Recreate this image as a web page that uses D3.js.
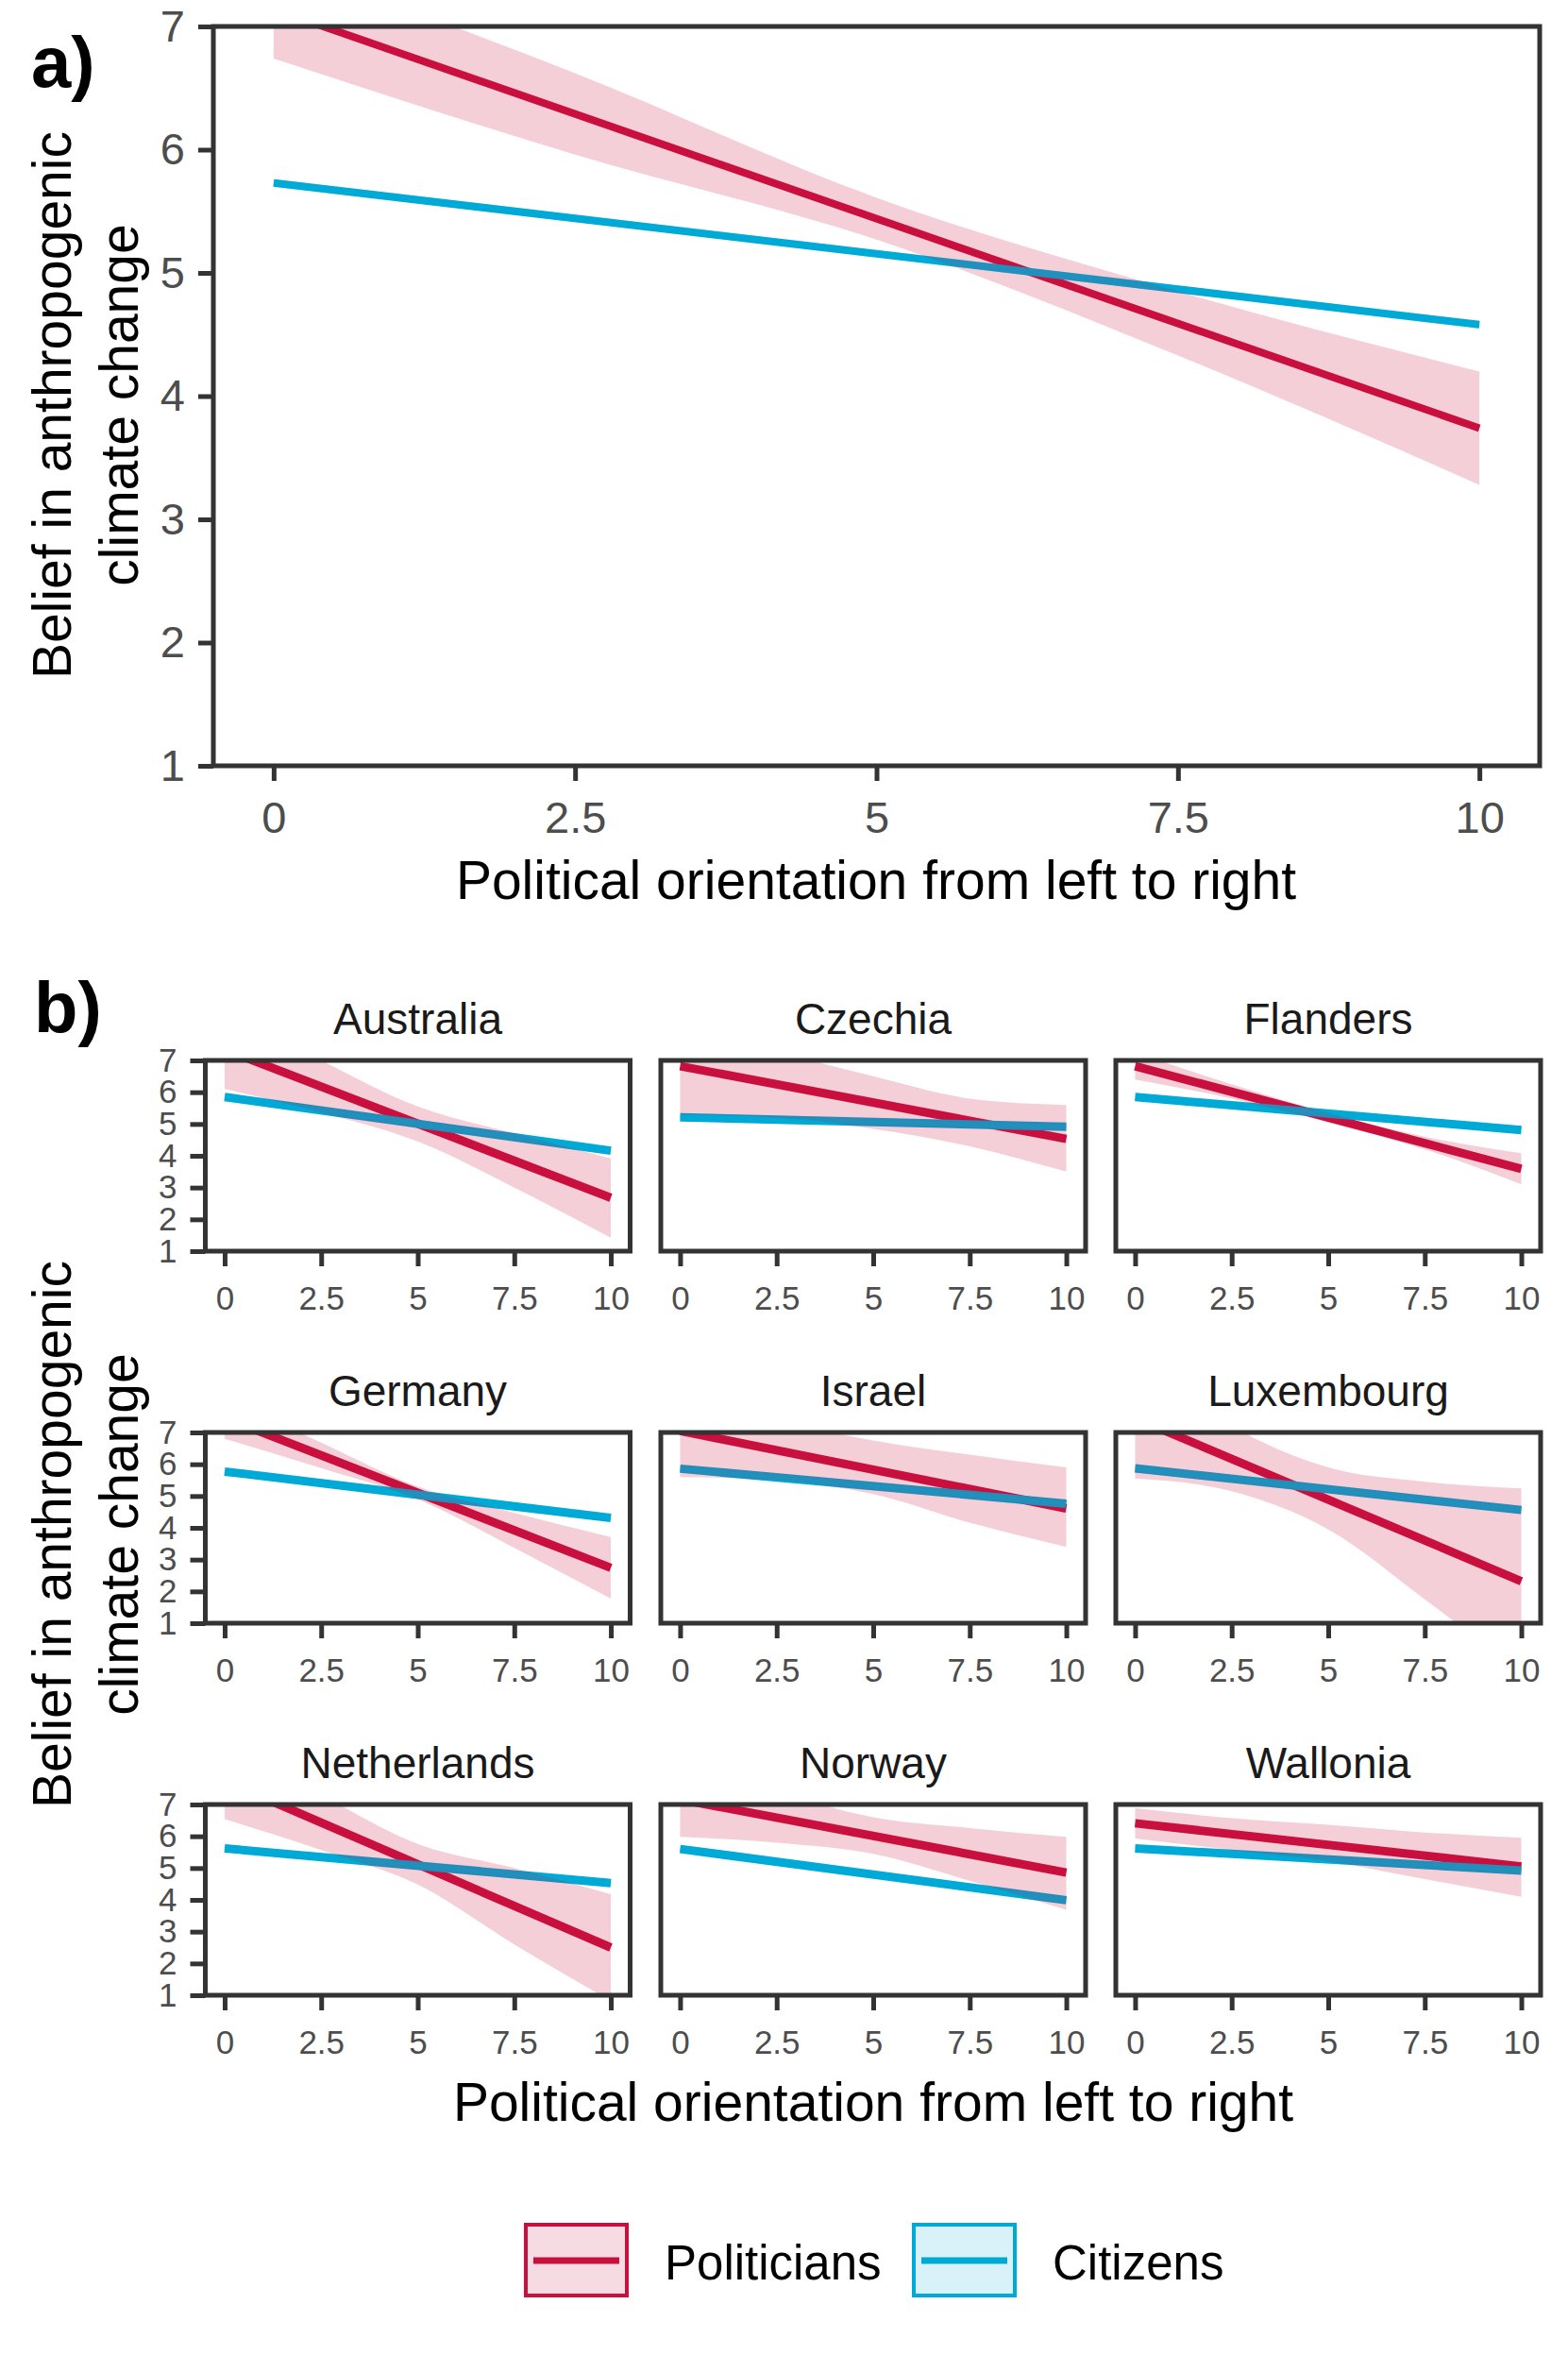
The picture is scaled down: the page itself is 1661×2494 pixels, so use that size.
<!DOCTYPE html>
<html>
<head>
<meta charset="utf-8">
<script src="https://cdn.jsdelivr.net/npm/d3@7"></script>
<style>
  body { margin: 0; background: #fff; }
  text { font-family: "Liberation Sans", Arial, sans-serif; }
</style>
</head>
<body>
<div id="chart"></div>
<script>
const xTicks = [0, 2.5, 5, 7.5, 10];
const yTicks = [1, 2, 3, 4, 5, 6, 7];
const lineX = [0, 10];
const bandX = [0, 2.5, 5, 7.5, 10];
const groups = ['Politicians', 'Citizens'];

// panel a: overall fit
const allPol = [7.14, 3.74];
const allPolLo = [6.74, 5.96, 5.27, 4.33, 3.28];
const allPolHi = [7.54, 6.62, 5.61, 4.85, 4.20];
const allCit = [5.73, 4.58];
const allCitLo = [5.70, 4.55];
const allCitHi = [5.76, 4.61];

// panel b: one entry per country
const countries = ['Australia', 'Czechia', 'Flanders', 'Germany', 'Israel', 'Luxembourg', 'Netherlands', 'Norway', 'Wallonia'];
const polFit = [[7.34, 2.68], [6.82, 4.53], [6.82, 3.59], [7.46, 2.74], [7.05, 4.61], [7.45, 2.32], [7.74, 2.50], [7.16, 4.86], [6.41, 5.05]];
const polLo = [
  [6.10, 5.36, 4.45, 3.00, 1.42],
  [5.30, 5.20, 4.85, 4.30, 3.50],
  [6.40, 5.80, 5.05, 4.20, 3.10],
  [6.80, 5.88, 4.90, 3.37, 1.77],
  [5.60, 5.50, 5.06, 4.16, 3.40],
  [5.55, 5.15, 3.95, 1.75, -0.60],
  [6.54, 5.57, 4.48, 2.60, 0.82],
  [5.98, 5.80, 5.45, 4.60, 3.69],
  [5.93, 5.57, 5.22, 4.65, 4.10]
];
const polHi = [
  [8.60, 7.00, 5.55, 4.71, 3.92],
  [8.30, 7.30, 6.50, 5.80, 5.60],
  [7.25, 6.25, 5.35, 4.60, 4.08],
  [8.10, 6.68, 5.30, 4.47, 3.71],
  [8.50, 7.40, 6.75, 6.30, 5.90],
  [9.35, 7.20, 5.90, 5.45, 5.24],
  [8.94, 7.30, 5.76, 5.00, 4.18],
  [8.34, 7.40, 6.60, 6.26, 5.98],
  [6.89, 6.57, 6.36, 6.12, 5.95]
];
const citFit = [[5.85, 4.16], [5.21, 4.91], [5.85, 4.81], [5.77, 4.31], [5.86, 4.76], [5.87, 4.56], [5.62, 4.53], [5.60, 3.99], [5.62, 4.92]];
const citLo = [[5.79, 4.09], [5.15, 4.84], [5.80, 4.75], [5.71, 4.25], [5.80, 4.69], [5.80, 4.48], [5.56, 4.46], [5.54, 3.92], [5.56, 4.85]];
const citHi = [[5.91, 4.23], [5.27, 4.98], [5.90, 4.87], [5.83, 4.37], [5.92, 4.83], [5.94, 4.64], [5.68, 4.60], [5.66, 4.06], [5.68, 4.99]];

const W = 1661, H = 2494;
const color = d3.scaleOrdinal(groups, ['#c90f3e', '#00aad6']);
const axisCol = '#333333', tickTextCol = '#4d4d4d';

const svg = d3.select('#chart')
    .append('svg')
    .attr('width', W)
    .attr('height', H);

let clipId = 0;

// draws one panel: lines first, then translucent bands on top (as in the original)
function drawPanel(box, pol, pLo, pHi, cit, cLo, cHi, opt){
    const x = d3.scaleLinear().domain([-0.5, 10.5]).range([box.left, box.right]);
    const y = d3.scaleLinear().domain([1, 7]).range([box.bottom, box.top]);
    const g = svg.append('g');

    const id = 'clip' + (clipId++);
    g.append('clipPath').attr('id', id)
        .append('rect')
        .attr('x', box.left).attr('y', box.top)
        .attr('width', box.right - box.left).attr('height', box.bottom - box.top);
    const inner = g.append('g').attr('clip-path', `url(#${id})`);

    const line = d3.line().x(d => x(d[0])).y(d => y(d[1]));
    const area = d3.area().x(d => x(d[0])).y0(d => y(d[1])).y1(d => y(d[2])).curve(d3.curveMonotoneX);

    inner.append('path')
        .attr('d', line(lineX.map((v, i) => [v, pol[i]])))
        .attr('fill', 'none').attr('stroke', color('Politicians')).attr('stroke-width', opt.lw);
    inner.append('path')
        .attr('d', line(lineX.map((v, i) => [v, cit[i]])))
        .attr('fill', 'none').attr('stroke', color('Citizens')).attr('stroke-width', opt.lw);
    inner.append('path')
        .attr('d', area(bandX.map((v, i) => [v, pLo[i], pHi[i]])))
        .attr('fill', color('Politicians')).attr('fill-opacity', 0.2);
    inner.append('path')
        .attr('d', area(lineX.map((v, i) => [v, cLo[i], cHi[i]])))
        .attr('fill', color('Citizens')).attr('fill-opacity', 0.2);

    // axes
    const axes = [];
    axes.push(g.append('g')
        .attr('transform', `translate(0,${box.bottom})`)
        .call(d3.axisBottom(x).tickValues(xTicks).tickSize(16).tickPadding(opt.xPad).tickFormat(d => d)));
    if (opt.showY) {
        axes.push(g.append('g')
            .attr('transform', `translate(${box.left},0)`)
            .call(d3.axisLeft(y).tickValues(yTicks).tickSize(16).tickPadding(14).tickFormat(d => d)));
    }
    axes.forEach(ax => {
        ax.select('.domain').remove();
        ax.selectAll('line').attr('stroke', axisCol).attr('stroke-width', 5);
        ax.selectAll('text')
            .attr('fill', tickTextCol)
            .style('font-size', opt.tickSize + 'px')
            .style('font-family', '"Liberation Sans", Arial, sans-serif');
    });

    g.append('rect')
        .attr('x', box.left).attr('y', box.top)
        .attr('width', box.right - box.left).attr('height', box.bottom - box.top)
        .attr('fill', 'none').attr('stroke', axisCol).attr('stroke-width', 5);

    if (opt.title) {
        g.append('text')
            .attr('x', (box.left + box.right) / 2)
            .attr('y', box.top - 28)
            .attr('text-anchor', 'middle')
            .attr('fill', '#1a1a1a')
            .style('font-size', '46px')
            .text(opt.title);
    }
}

function yTitle(cy){
    const t = svg.append('text')
        .attr('transform', `translate(75,${cy}) rotate(-90)`)
        .attr('text-anchor', 'middle')
        .style('font-size', '57px')
        .attr('fill', '#000');
    t.append('tspan').attr('x', 0).attr('dy', 0).text('Belief in anthropogenic');
    t.append('tspan').attr('x', 0).attr('dy', 71).text('climate change');
}

function xTitle(cx, baseline){
    svg.append('text')
        .attr('x', cx).attr('y', baseline)
        .attr('text-anchor', 'middle')
        .style('font-size', '57px')
        .attr('fill', '#000')
        .text('Political orientation from left to right');
}

// ---- panel a
const boxA = {left: 226, right: 1631, top: 28, bottom: 811};
drawPanel(boxA, allPol, allPolLo, allPolHi, allCit, allCitLo, allCitHi, {lw: 8, xPad: 22, tickSize: 47, showY: true});
yTitle(429);
xTitle(928, 952);
svg.append('text').attr('x', 33).attr('y', 92)
    .style('font-size', '76px').style('font-weight', 'bold').text('a)');

// ---- panel b
const colLeft = [217.5, 700, 1182];
const rowTop = [1123, 1517, 1911];
const facetW = 450, facetH = 202;
countries.forEach((c, i) => {
    const col = i % 3, row = Math.floor(i / 3);
    const box = {left: colLeft[col], right: colLeft[col] + facetW, top: rowTop[row], bottom: rowTop[row] + facetH};
    drawPanel(box, polFit[i], polLo[i], polHi[i], citFit[i], citLo[i], citHi[i],
        {lw: 9, xPad: 21, tickSize: 35, title: c, showY: col === 0});
});
yTitle(1625);
xTitle(925, 2246);
svg.append('text').attr('x', 36).attr('y', 1093)
    .style('font-size', '76px').style('font-weight', 'bold').text('b)');

// ---- legend
const keyX = [555, 966];
const legend = svg.append('g');
groups.forEach((gname, i) => {
    const k = legend.append('g').attr('transform', `translate(${keyX[i]},2354)`);
    k.append('rect')
        .attr('x', 2).attr('y', 2).attr('width', 107).attr('height', 75)
        .attr('fill', color(gname)).attr('fill-opacity', 0.15)
        .attr('stroke', color(gname)).attr('stroke-width', 4);
    k.append('line')
        .attr('x1', 10).attr('x2', 101).attr('y1', 40).attr('y2', 40)
        .attr('stroke', color(gname)).attr('stroke-width', 7);
    k.append('text')
        .attr('x', 149).attr('y', 60)
        .style('font-size', '51px')
        .attr('fill', '#000')
        .text(gname);
});
</script>
</body>
</html>
